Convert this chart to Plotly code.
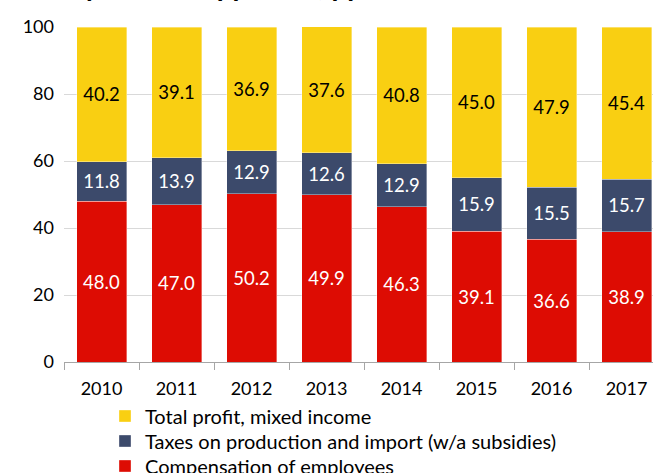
import plotly.graph_objects as go

years = ["2010", "2011", "2012", "2013", "2014", "2015", "2016", "2017"]
compensation = [48.0, 47.0, 50.2, 49.9, 46.3, 39.1, 36.6, 38.9]
taxes = [11.8, 13.9, 12.9, 12.6, 12.9, 15.9, 15.5, 15.7]
profit = [40.2, 39.1, 36.9, 37.6, 40.8, 45.0, 47.9, 45.4]

names = ["Compensation of employees",
         "Taxes on production and import (w/a subsidies)",
         "Total profit, mixed income"]
colors = ["#DD0C03", "#3C4A6B", "#F9CF12"]
text_colors = ["white", "white", "black"]
legend_ids = ["legend3", "legend2", "legend"]
title_text = "By income approach, pp"

FONT = "Lato"
L, T, PW, PH = 64, 27, 589, 335

fig = go.Figure()
for vals, name, col, tcol, lg in zip([compensation, taxes, profit], names, colors,
                                     text_colors, legend_ids):
    fig.add_trace(go.Bar(
        x=years, y=vals, name=name, legend=lg,
        marker=dict(color=col, line=dict(color="rgba(255,255,255,0.6)", width=0.6)),
        texttemplate="%{y:.1f}", textposition="inside", insidetextanchor="middle",
        textangle=0, constraintext="none",
        insidetextfont=dict(color=tcol, size=18.5, family=FONT),
        hoverinfo="skip",
    ))

def legend_at(row_center_px):
    return dict(orientation="v", x=(105 - L) / PW, xanchor="left",
                y=(T + PH - row_center_px) / PH, yanchor="middle",
                font=dict(size=20, family=FONT, color="black"), itemwidth=30,
                bgcolor="rgba(0,0,0,0)")

fig.update_layout(
    width=653, height=473,
    margin=dict(l=L, r=0, t=T, b=473 - T - PH, pad=0, autoexpand=False),
    barmode="stack", bargap=1/3,
    plot_bgcolor="white", paper_bgcolor="white",
    font=dict(family=FONT, size=18, color="black"),
    showlegend=True,
    legend=legend_at(416),
    legend2=legend_at(441),
    legend3=legend_at(466),
    xaxis=dict(type="category", range=[-0.5, 7.353], showline=True,
               linecolor="#A6A6A6", linewidth=1.2, ticks="outside",
               tickson="boundaries", ticklen=7, tickcolor="#A6A6A6",
               showgrid=False, ticklabelstandoff=10,
               tickfont=dict(size=18, family=FONT)),
    yaxis=dict(range=[0, 100], tickvals=[0, 20, 40, 60, 80, 100],
               showgrid=True, gridcolor="#D9D9D9", gridwidth=1,
               zeroline=False, showline=False, ticks="",
               ticklabelstandoff=9, tickfont=dict(size=18, family=FONT)),
    annotations=[dict(text="<b>" + title_text + "</b>", xref="paper", yref="paper",
                      x=0, xanchor="left", y=(T + PH + 15) / PH, yanchor="middle",
                      showarrow=False, font=dict(size=28, family=FONT, color="black"))],
)

fig.write_html("out.html", config={"displayModeBar": False},
               post_script="document.body.style.margin='0px';document.body.style.overflow='hidden';")
